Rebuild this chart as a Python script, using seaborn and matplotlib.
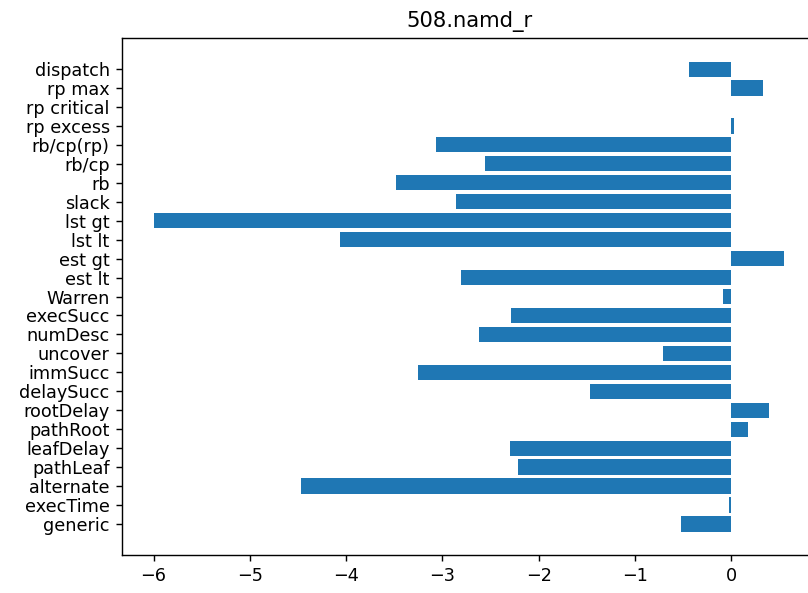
import matplotlib
matplotlib.use("Agg")
import matplotlib.pyplot as plt
import seaborn as sns
import pandas as pd

categories = ["dispatch", "rp max", "rp critical", "rp excess", "rb/cp(rp)", "rb/cp",
              "rb", "slack", "lst gt", "lst lt", "est gt", "est lt", "Warren",
              "execSucc", "numDesc", "uncover", "immSucc", "delaySucc", "rootDelay",
              "pathRoot", "leafDelay", "pathLeaf", "alternate", "execTime", "generic"]
values = [-0.436, 0.335, 0.0, 0.028, -3.07, -2.56,
          -3.48, -2.855, -6.0, -4.06, 0.553, -2.81, -0.087,
          -2.29, -2.62, -0.71, -3.25, -1.47, 0.39,
          0.17, -2.30, -2.215, -4.47, -0.028, -0.52]
title = "508.namd_r"

df = pd.DataFrame({"feature": categories, "value": values})

DPI = 127
fig = plt.figure(figsize=(808 / DPI, 593 / DPI), dpi=DPI)
ax = fig.add_axes([122 / 808, 38 / 593, 694 / 808, 517 / 593])

sns.barplot(data=df, x="value", y="feature", order=categories, orient="h",
            color="#1f77b4", saturation=1, width=0.8, errorbar=None, ax=ax)

n = len(categories)
span = (n - 1) + 0.8
ax.set_ylim(n - 1 + 0.4 + 0.05 * span, -0.4 - 0.05 * span)
ax.set_xlabel("")
ax.set_ylabel("")
ax.set_xticks([-6, -5, -4, -3, -2, -1, 0])
ax.set_title(title, fontsize=12)

fig.savefig("out.png", dpi=DPI)
